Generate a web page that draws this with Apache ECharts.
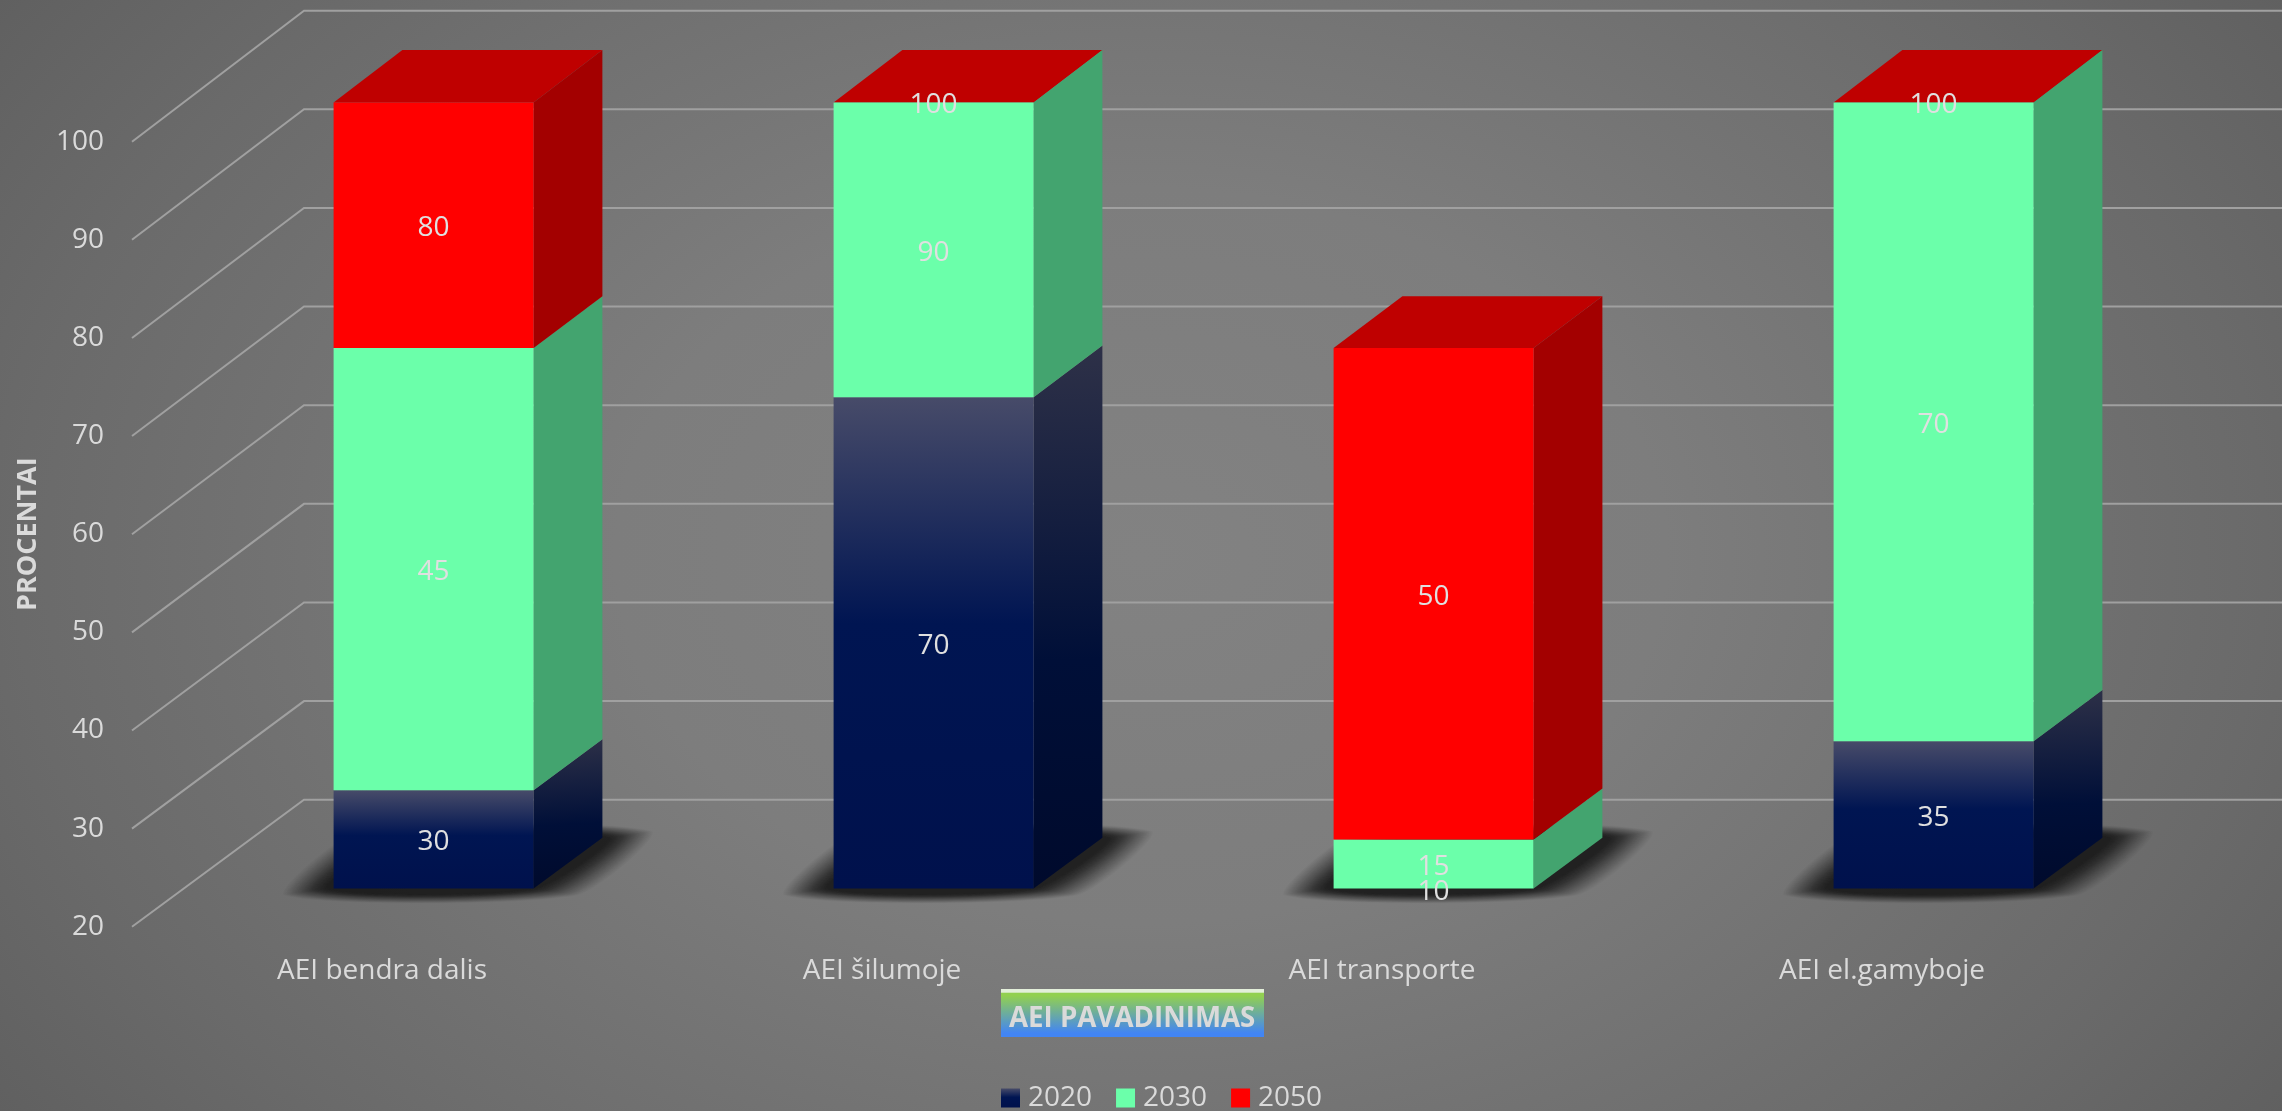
<!DOCTYPE html>
<html><head><meta charset="utf-8">
<style>html,body{margin:0;padding:0;width:2282px;height:1111px;overflow:hidden;background:radial-gradient(ellipse 1500px 1050px at 50% 50%,#828282 0%,#7d7d7d 35%,#6a6a6a 75%,#5c5c5c 100%);}#c{width:2282px;height:1111px}</style>
<script src="https://cdn.jsdelivr.net/npm/echarts@6/dist/echarts.min.js"></script>
</head><body><div id="c"></div><script>
const categories = ['AEI bendra dalis','AEI šilumoje','AEI transporte','AEI el.gamyboje'];
const years = ['2020','2030','2050'];
const values2020 = [30,70,10,35];
const values2030 = [45,90,15,70];
const values2050 = [80,100,50,100];
const yTicks = [20,30,40,50,60,70,80,90,100];
const yMin = 20, yMax = 100;
const stacks = [values2020, values2030, values2050];

const DX = 172, DY0 = 127, DYK = 0.05, D1 = 0.3, D2 = 0.7;
function depth(p, v, d){ return [p[0] + DX*d, p[1] - d*(DY0 + (v-yMin)*DYK)]; }
function lin(x2,y2,stops){ return {type:'linear',x:0,y:0,x2:x2,y2:y2,colorStops:stops.map(s=>({offset:s[0],color:s[1]}))}; }
const navyFront = lin(0,1,[[0,'#474B69'],[0.46,'#001552'],[1,'#00114C']]);
const navySide = lin(0.12,1,[[0,'#2E3148'],[0.58,'#000F38'],[1,'#000A2C']]);
const faces = [
 {front:navyFront, side:navySide, top:'#2E3148'},
 {front:'#6BFFAA', side:'#43A46F', top:'#43A46F'},
 {front:'#FF0000', side:'#A30000', top:'#BF0000'}
];
const clamp = v => Math.max(yMin, Math.min(yMax, v));
const poly = (points, fill, z2) => ({type:'polygon', shape:{points}, style:{fill}, z2});

function segRender(si){
  return function(params, api){
    const i = api.value(0);
    let base = 0; for(let k=0;k<si;k++) base += stacks[k][i];
    const top = base + stacks[si][i];
    const v0 = clamp(base), v1 = clamp(top);
    const half = api.size([1,0])[0]*0.2;
    const c = api.coord([i, v0]), t = api.coord([i, v1]);
    const F0 = depth(c, v0, D1), F1 = depth(t, v1, D1), B0 = depth(c, v0, D2), B1 = depth(t, v1, D2);
    const f = faces[si];
    const children = [];
    if (si === 2) children.push(poly([[F1[0]-half,F1[1]],[F1[0]+half,F1[1]],[B1[0]+half,B1[1]],[B1[0]-half,B1[1]]], f.top, 1));
    if (v1 > v0){
      children.push(poly([[F0[0]+half,F0[1]],[F1[0]+half,F1[1]],[B1[0]+half,B1[1]],[B0[0]+half,B0[1]]], f.side, 2));
      children.push({type:'rect', shape:{x:F0[0]-half,y:F1[1],width:half*2,height:F0[1]-F1[1]}, style:{fill:f.front}, z2:3});
    }
    children.push({type:'text', z2:50, style:{text:String(stacks[si][i]), x:F0[0], y:(F0[1]+F1[1])/2+3, align:'center', verticalAlign:'middle', fill:'#E0E0E0', font:'28px "Open Sans"'}});
    return {type:'group', children};
  };
}
const SHADOW_LAYERS = 40;
const SHADOW_CORE = 0.88;
function shadowRender(params, api){
  const i = api.value(0);
  const half = api.size([1,0])[0]*0.2;
  const c = api.coord([i, yMin]);
  const F = depth(c, yMin, D1), B = depth(c, yMin, D2);
  const children = [];
  let prev = 0;
  for(let n=1;n<=SHADOW_LAYERS;n++){
    const t = n/SHADOW_LAYERS;                  // 0 = outer edge, 1 = core
    const target = SHADOW_CORE*t;               // even falloff of the accumulated darkness
    const a = 1-(1-target)/(1-prev); prev = target;
    const ex = (1-t)*44, ey = (1-t)*7;
    children.push({type:'polygon', z2:n, shape:{smooth:0.22, points:[
      [F[0]-half-6-ex,F[1]+ey],[F[0]+half+ex,F[1]+ey],
      [B[0]+half+6+ex,B[1]-ey],[B[0]-half-ex,B[1]-ey]]},
      style:{fill:'#1c1c1c', opacity:a}});
  }
  return {type:'group', children};
}
function wallRender(params, api){
  const v = api.value(1);
  const cs = params.coordSys;
  const p = api.coord([0, v]);
  const a = [cs.x, p[1]];
  const b = depth(a, v, 1);
  return {type:'polyline', shape:{points:[a, b, [b[0]+cs.width, b[1]]]}, style:{fill:null, stroke:'#A0A0A0', lineWidth:2}};
}
const enc = {x:0,y:1};
const chart = echarts.init(document.getElementById('c'), null, {renderer:'canvas'});
chart.setOption({
  animation:false,
  backgroundColor:'transparent',
  textStyle:{fontFamily:'"Open Sans"'},
  grid:{left:132, width:2000, top:141.7, height:785, containLabel:false, outerBoundsMode:'none'},
  xAxis:{type:'category', data:categories, axisLine:{show:false}, axisTick:{show:false}, splitLine:{show:false},
    axisLabel:{color:'#DADADA', fontSize:28, margin:30}},
  yAxis:{type:'value', min:yMin, max:yMax, interval:10, axisLine:{show:false}, axisTick:{show:false}, splitLine:{show:false},
    axisLabel:{color:'#DADADA', fontSize:28, margin:28, padding:[3,0,0,0]},
    name:'PROCENTAI', nameLocation:'middle', nameRotate:90, nameGap:90,
    nameTextStyle:{color:'#DADADA', fontSize:27, fontWeight:'bold'}},
  legend:{show:true, left:1001, top:1084, padding:0, icon:'rect', itemWidth:19, itemHeight:19, itemGap:24, selectedMode:false,
    textStyle:{color:'#DADADA', fontSize:28, padding:[0,0,0,3]},
    data:years.map((y,k)=>({name:y, itemStyle:{color:k===0?navyFront:faces[k].front}}))},
  graphic:[
    {type:'rect', left:1001, top:989, z:5, shape:{width:263,height:48}, style:{fill:lin(0,1,[[0,'#E3EFDA'],[0.07,'#E3EFDA'],[0.08,'#92D050'],[0.14,'#92D050'],[0.92,'#4285F4'],[1,'#4285F4']])}},
    {type:'text', left:1009, top:1005, z:6, style:{text:'AEI PAVADINIMAS', fill:'#DADADA', font:'bold 27.7px "Open Sans"'}}
  ],
  series:[
    {type:'custom', name:'walls', z:1, silent:true, encode:enc, renderItem:wallRender, data:yTicks.map(v=>[0,v]), clip:false},
    {type:'custom', name:'shadow', z:1, silent:true, encode:enc, renderItem:shadowRender, data:categories.map((c,i)=>[i,yMin]), clip:false},
    ...years.map((y,si)=>({type:'custom', name:y, z:2, encode:enc, renderItem:segRender(si),
      itemStyle:{color:si===0?navyFront:faces[si].front}, clip:false,
      data:stacks[si].map((v,i)=>[i,v])}))
  ]
});
</script></body></html>
